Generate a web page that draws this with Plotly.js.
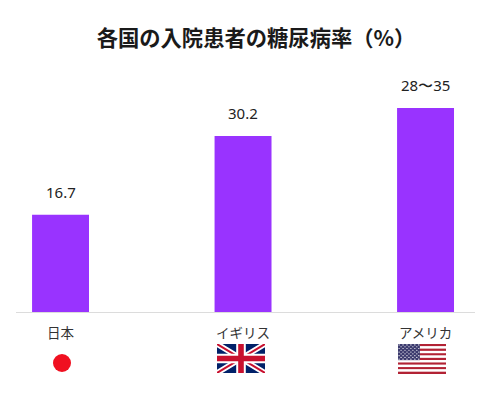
<!DOCTYPE html>
<html><head><meta charset="utf-8">
<script src="https://cdn.plot.ly/plotly-3.0.1.min.js"></script>
<style>html,body{margin:0;padding:0;background:#fff}</style></head>
<body><div id="c" style="width:493px;height:394px"></div>
<script>
const categories=["日本","イギリス","アメリカ"];
const values=[16.7,30.2,35];
const valueLabels=["16.7","30.2","28〜35"];
const chartTitle="各国の入院患者の糖尿病率（%）";
const FONT='"Noto Sans CJK JP","Noto Sans",sans-serif';
const W=493,H=394,L=16,R=18,T=72,B=82,PW=W-L-R,PH=H-T-B;
function svg(s,w,h){return 'data:image/svg+xml;base64,'+btoa('<svg xmlns="http://www.w3.org/2000/svg" width="'+w+'" height="'+h+'" viewBox="0 0 '+w+' '+h+'">'+s+'</svg>');}
const jp=svg('<circle cx="15" cy="15" r="9" fill="#f01020"/>',30,30);
const uk=svg('<rect width="60" height="36" fill="#012169"/><path d="M0 0L60 36M60 0L0 36" stroke="#fff" stroke-width="7"/><path d="M0 0L60 36M60 0L0 36" stroke="#c8102e" stroke-width="2.4"/><path d="M30 0V36M0 18H60" stroke="#fff" stroke-width="12"/><path d="M30 0V36M0 18H60" stroke="#c8102e" stroke-width="7"/>',60,36);
let st='';for(let i=0;i<13;i++){st+='<rect y="'+(i*3)+'" width="57" height="3" fill="'+(i%2?'#fff':'#b22234')+'"/>';}
st+='<rect width="26" height="21" fill="#3c3b6e"/>';
for(let r=0;r<9;r++){for(let c=0;c<11;c++){if((r+c)%2===0)st+='<circle cx="'+(1.3+c*2.34)+'" cy="'+(1.2+r*2.32)+'" r=".75" fill="#fff"/>';}}
const us=svg(st,57,39);
function img(src,x0,y0,x1,y1){return {source:src,xref:'paper',yref:'paper',x:(x0-L)/PW,y:(T+PH-y0)/PH,sizex:(x1-x0)/PW,sizey:(y1-y0)/PH,sizing:'stretch',xanchor:'left',yanchor:'top',layer:'above'};}
Plotly.newPlot('c',[{type:'bar',x:[0,1,2],y:values,marker:{color:'#9933ff',line:{width:0}},width:0.312,hoverinfo:'skip'}],{
 width:W,height:H,margin:{l:L,r:R,t:T,b:B,pad:0},paper_bgcolor:'#fff',plot_bgcolor:'#fff',showlegend:false,
 title:{text:'<b>'+chartTitle+'</b>',x:256/W,xanchor:'center',y:1-39/H,yanchor:'middle',font:{family:FONT,size:21.3,color:'#1a1a1a'}},
 xaxis:{range:[-0.244,2.271],tickmode:'array',tickvals:[0,1,2],ticktext:categories,showgrid:false,zeroline:false,showline:true,linecolor:'#dcdcdc',linewidth:1,ticks:'outside',ticklen:9,tickcolor:'rgba(0,0,0,0)',tickangle:0,tickfont:{family:FONT,size:13.5,color:'#333'}},
 yaxis:{range:[0,41.17],visible:false,showgrid:false,zeroline:false},
 annotations:values.map((v,i)=>({x:i,y:v,xref:'x',yref:'y',text:valueLabels[i],showarrow:false,yanchor:'middle',yshift:22.5,font:{family:'"Noto Sans",sans-serif',size:15,color:'#222'}})),
 images:[img(jp,47,348,77,378),img(uk,217,344,265,373),img(us,398,344,446,374)]
},{staticPlot:true,displayModeBar:false});
</script></body></html>
